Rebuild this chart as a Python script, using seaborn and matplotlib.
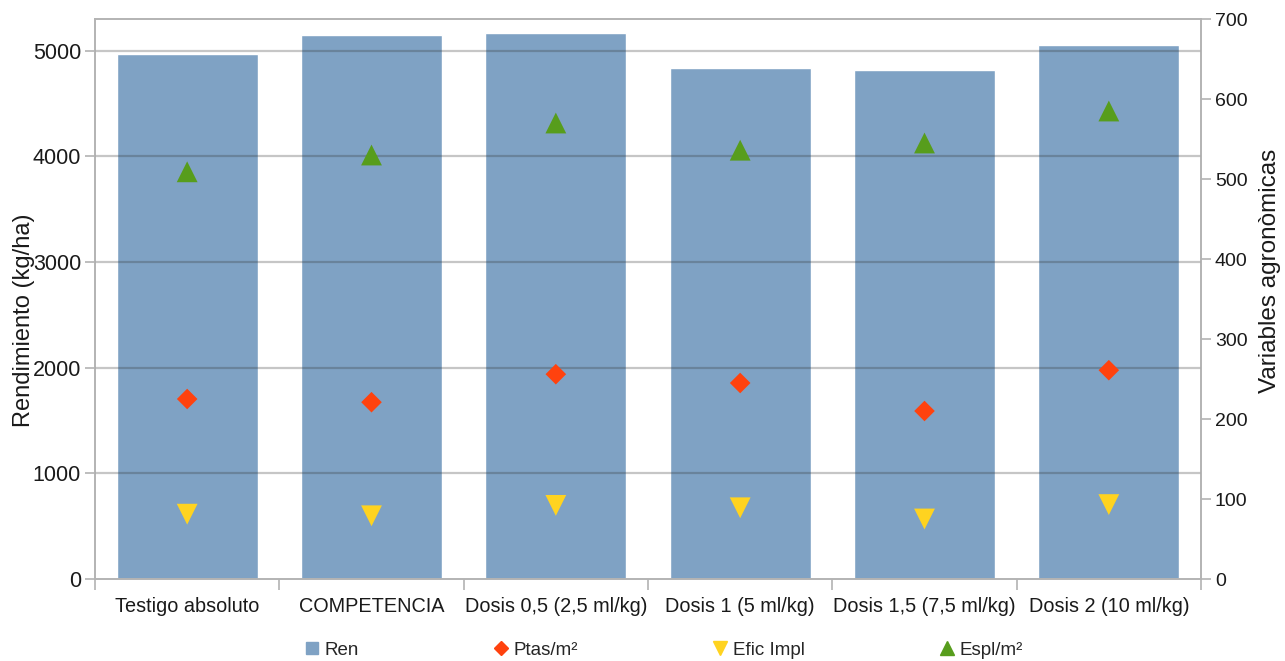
import matplotlib
matplotlib.use("Agg")
import matplotlib.pyplot as plt
from matplotlib.lines import Line2D
import seaborn as sns
import pandas as pd

# Treatments and measured values
categories = ["Testigo absoluto", "COMPETENCIA", "Dosis 0,5 (2,5 ml/kg)",
              "Dosis 1 (5 ml/kg)", "Dosis 1,5 (7,5 ml/kg)", "Dosis 2 (10 ml/kg)"]
rendimiento = [4965, 5152, 5164, 4833, 4820, 5051]   # kg/ha
ptas_m2 = [225, 221, 256, 245, 210, 261]
efic_impl = [81, 79, 92, 89, 75, 93]
espl_m2 = [509, 530, 570, 536, 545, 585]

left_ticks = [0, 1000, 2000, 3000, 4000, 5000]
right_ticks = [0, 100, 200, 300, 400, 500, 600, 700]

bar_color = "#7fa2c4"
col_ptas = "#ff420e"
col_efic = "#ffd320"
col_espl = "#579d1c"
frame = "#b3b3b3"
text_col = "#1a1a1a"

sns.set_theme(style="white")
plt.rcParams["font.family"] = ["Liberation Sans", "DejaVu Sans"]

df = pd.DataFrame({"cat": categories, "ren": rendimiento, "ptas": ptas_m2,
                   "efic": efic_impl, "espl": espl_m2})

W, H = 1285, 661
fig = plt.figure(figsize=(W / 100, H / 100), dpi=100)
ax = fig.add_axes([95 / W, 1 - 579 / H, (1201 - 95) / W, (579 - 19) / H])

sns.barplot(data=df, x="cat", y="ren", color=bar_color, saturation=1,
            width=0.765, ax=ax, zorder=1)
ax.set_ylim(0, 5300)
ax.set_xlim(-0.5, len(categories) - 0.5)
ax.set_yticks(left_ticks)
ax.set_yticklabels([str(t) for t in left_ticks], fontsize=15.5, color=text_col)
ax.set_xticks(range(len(categories)))
ax.set_xticklabels(categories, fontsize=14.3, color=text_col)
ax.tick_params(axis="x", length=0, pad=13)
ax.tick_params(axis="y", length=7, color=frame, width=1.2, pad=3, left=True)
# minor ticks on the category boundaries
ax.set_xticks([i + 0.5 for i in range(-1, len(categories))], minor=True)
ax.tick_params(axis="x", which="minor", length=8, color=frame, width=1.2, bottom=True)
ax.set_xlabel("")
ax.set_ylabel("Rendimiento (kg/ha)", fontsize=17, color=text_col)
ax.yaxis.set_label_coords(-60 / (1201 - 95), (579 - 320) / (579 - 19))

# horizontal grid drawn over the bars
for t in left_ticks[1:]:
    ax.axhline(t, color=(0.2, 0.2, 0.2, 0.28), lw=1.6, zorder=3)

for s in ax.spines.values():
    s.set_color(frame)
    s.set_linewidth(1.2)

ax2 = ax.twinx()
sns.scatterplot(data=df, x="cat", y="ptas", marker="D", s=110, color=col_ptas,
                edgecolor="none", ax=ax2, zorder=5)
sns.scatterplot(data=df, x="cat", y="efic", marker="v", s=225, color=col_efic,
                edgecolor="none", ax=ax2, zorder=5)
sns.scatterplot(data=df, x="cat", y="espl", marker="^", s=225, color=col_espl,
                edgecolor="none", ax=ax2, zorder=5)
ax2.set_ylim(0, 700)
ax2.set_xlim(-0.5, len(categories) - 0.5)
ax2.set_yticks(right_ticks)
ax2.set_yticklabels([str(t) for t in right_ticks], fontsize=14, color=text_col)
ax2.tick_params(axis="y", length=7, color=frame, width=1.2, pad=3, right=True)
ax2.set_ylabel("Variables agronòmicas", fontsize=17.5, color=text_col, rotation=90)
ax2.yaxis.set_label_coords((1259 - 95) / (1201 - 95), (579 - 271) / (579 - 19))
ax2.set_xlabel("")
for s in ax2.spines.values():
    s.set_color(frame)
    s.set_linewidth(1.2)

handles = [
    Line2D([], [], marker="s", linestyle="none", color=bar_color, markersize=9),
    Line2D([], [], marker="D", linestyle="none", color=col_ptas, markersize=7),
    Line2D([], [], marker="v", linestyle="none", color=col_efic, markersize=10),
    Line2D([], [], marker="^", linestyle="none", color=col_espl, markersize=10),
]
labels = ["Ren", "Ptas/m²", "Efic Impl", "Espl/m²"]
fig.legend(handles, labels, loc="center", bbox_to_anchor=(664 / W, 1 - 650 / H),
           ncol=4, frameon=False, fontsize=13.5, handlelength=0.7, handletextpad=0.3,
           columnspacing=7.25)

fig.savefig("out.png", dpi=100)
